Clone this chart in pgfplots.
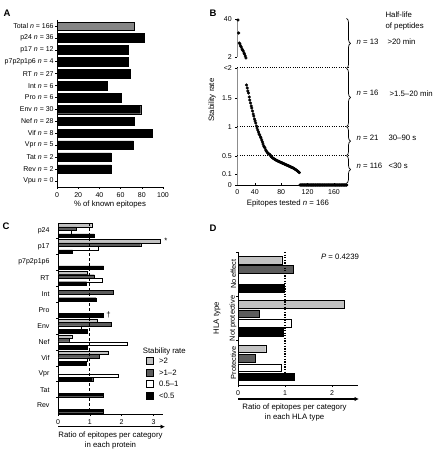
\documentclass[border=0pt]{standalone}
\usepackage{pgfplots}
\pgfplotsset{compat=1.18}
\usepackage{fontspec}
\setmainfont{Liberation Sans}
\usetikzlibrary{decorations.pathreplacing,arrows.meta}
\definecolor{lgray}{HTML}{C2C2C2}
\definecolor{dgray}{HTML}{5C5C5C}
\definecolor{tgray}{HTML}{858585}
\definecolor{axgray}{HTML}{8C8C8C}
\newcommand{\lab}{\fontsize{7.8}{9}\selectfont}
\newcommand{\tk}{\fontsize{7}{8}\selectfont}
\begin{document}
\begin{tikzpicture}[x=1pt,y=1pt,font=\lab]
\pgfplotsset{
  every axis/.append style={scale only axis, anchor=south west, clip=false,
    /pgf/number format/assume math mode=true,
    tick label style={font=\tk}, axis line style={line width=0.6pt},
    tick style={black, line width=0.5pt}, major tick length=2pt},
}
\path[use as bounding box] (0,0) rectangle (432,452);

% ---------------- Panel A ----------------
\begin{axis}[at={(57pt,265pt)}, width=106pt, height=167pt,
  xmin=0, xmax=100, ymin=-0.5, ymax=13.5, y dir=reverse,
  axis x line*=bottom, axis y line*=left, tick align=outside,
  xtick={0,20,40,60,80,100}, ytick={0,1,...,13},
  yticklabel style={inner sep=1.2pt},
  yticklabels={{Total \textit{n} = 166},{p24 \textit{n} = 36},{p17 \textit{n} = 12},{p7p2p1p6 \textit{n} = 4},{RT \textit{n} = 27},{Int \textit{n} = 6},{Pro \textit{n} = 6},{Env \textit{n} = 30},{Nef \textit{n} = 28},{Vif \textit{n} = 8},{Vpr \textit{n} = 5},{Tat \textit{n} = 2},{Rev \textit{n} = 2},{Vpu \textit{n} = 0}}]
\addplot[xbar, bar width=8.5pt, bar shift=0pt, fill=tgray, draw=black, line width=0.4pt] coordinates {(73,0)};
\addplot[xbar, bar width=8.5pt, bar shift=0pt, fill=black, draw=black, line width=0.4pt] coordinates {
(82,1) (67,2) (67,3) (69,4) (47,5) (61,6) (79,7) (73,8) (90,9) (72,10) (51,11) (51,12)};
\end{axis}
\node at (110,248) {\% of known epitopes};
\node[font=\fontsize{9.5}{10}\selectfont\bfseries] at (7,439) {A};

% ---------------- Panel B ----------------
\begin{axis}[at={(237.3pt,267pt)}, width=110.2pt, height=166pt,
  xmin=0, xmax=167, ymin=0, ymax=166,
  axis x line*=bottom, axis y line*=left,
  y axis line style={draw=none},
  ytick align=outside, xtick align=inside,
  xticklabel style={yshift=-1.5pt},
  xtick={0,26.5,66.5,106.5,146.5}, xticklabels={0,40,80,120,160},
  ytick={0,11,29,58,87,117,128,166}, yticklabels={0,0.1,0.5,1,1.5,<2,2,40}]
\draw[axgray, line width=1.5pt] (axis cs:0,0) -- (axis cs:0,117);
\draw[axgray, line width=1.5pt] (axis cs:0,128) -- (axis cs:0,166);
\addplot[dash pattern=on 1pt off 1.3pt, line width=1pt] coordinates {(0,117) (169,117)};
\addplot[dash pattern=on 1pt off 1.3pt, line width=1pt] coordinates {(0,58) (169,58)};
\addplot[dash pattern=on 1pt off 1.3pt, line width=1pt] coordinates {(0,29) (169,29)};
\addplot[only marks, mark=*, mark size=1.35pt, black] coordinates {
(1,165) (2,152) (3,142) (4,141) (5,139) (6,138) (7,136) (8,135) (9,134) (10,132) (11,131) (12,129) (13,127)
(14,100) (15,97) (16,94) (17,92) (18,88) (19,85) (20,82) (21,79) (22,77) (23,74) (24,71) (25,69) (26,66) (27,64) (28,62) (29,59)
(30,57) (31,55) (32,53) (33,51) (34,50) (35,48) (36,47) (37,45) (38,43) (39,41) (40,39) (41,38) (42,37) (43,35) (44,34) (45,33) (46,32) (47,31.5) (48,31) (49,30.5) (50,30)
(51,28.5) (52,28) (53,27.4) (54,26.9) (55,26.4) (56,26) (57,25.6) (58,25.2) (59,24.8) (60,24.4)
(61,24.1) (62,23.8) (63,23.5) (64,23.2) (65,22.9) (66,22.6) (67,22.3) (68,22) (69,21.7) (70,21.4)
(71,21.1) (72,20.8) (73,20.5) (74,20.2) (75,19.9) (76,19.6) (77,19.3) (78,19) (79,18.7) (80,18.4)
(81,18.1) (82,17.8) (83,17.5) (84,17.2) (85,16.8) (86,16.4) (87,16) (88,15.6) (89,15.1) (90,14.6)
(91,14.1) (92,13.6) (93,13) (94,12.4)
(95,0) (96,0) (97,0) (98,0) (99,0) (100,0) (101,0) (102,0) (103,0) (104,0) (105,0) (106,0) (107,0) (108,0) (109,0) (110,0)
(111,0) (112,0) (113,0) (114,0) (115,0) (116,0) (117,0) (118,0) (119,0) (120,0) (121,0) (122,0) (123,0) (124,0) (125,0)
(126,0) (127,0) (128,0) (129,0) (130,0) (131,0) (132,0) (133,0) (134,0) (135,0) (136,0) (137,0) (138,0) (139,0) (140,0)
(141,0) (142,0) (143,0) (144,0) (145,0) (146,0) (147,0) (148,0) (149,0) (150,0) (151,0) (152,0) (153,0) (154,0) (155,0)
(156,0) (157,0) (158,0) (159,0) (160,0) (161,0) (162,0) (163,0) (164,0) (165,0) (166,0)};
\end{axis}
\node[font=\fontsize{9.5}{10}\selectfont\bfseries] at (213,439) {B};
\node[rotate=90] at (212,352) {Stability rate};
\node at (288,248.7) {Epitopes tested \textit{n} = 166};
\node[anchor=west] at (382,437) {Half-life};
\node[anchor=west] at (382,425.3) {of peptides};
\node[anchor=west] at (353,410.3) {\textit{n} = 13};
\node[anchor=west] at (384,410.3) {>20 min};
\node[anchor=west] at (353,358.7) {\textit{n} = 16};
\node[anchor=west] at (386,358.7) {>1.5–20 min};
\node[anchor=west] at (353,314.3) {\textit{n} = 21};
\node[anchor=west] at (385,314.3) {30–90 s};
\node[anchor=west] at (353,286) {\textit{n} = 116};
\node[anchor=west] at (385,286) {<30 s};
\begin{scope}[decoration={brace,amplitude=4pt}, line width=0.7pt]
\draw[decorate] (346.5,433.7) -- (346.5,383.7);
\draw[decorate] (346.5,383.7) -- (346.5,325.3);
\draw[decorate] (346.5,325.3) -- (346.5,296.3);
\draw[decorate] (346.5,296.3) -- (346.5,268.7);
\end{scope}

% ---------------- Panel C ----------------
\begin{axis}[at={(58pt,38pt)}, width=105pt, height=191pt,
  xmin=0, xmax=3.3, ymin=-0.465, ymax=11.527, y dir=reverse,
  axis x line*=bottom, axis y line*=left, tick align=outside,
  xtick={0,1,2,3}, ytick={0,1,...,11},
  ytick style={draw=none}, yticklabel style={xshift=-3pt},
  yticklabels={p24,p17,p7p2p1p6,RT,Int,Pro,Env,Nef,Vif,Vpr,Tat,Rev},
  extra y ticks={0.5,1.5,2.5,3.5,4.5,5.5,6.5,7.5,8.5,9.5,10.5},
  extra y tick labels={}, extra y tick style={ytick style={draw=black}}]
\addplot[xbar, bar width=3.5pt, bar shift=0pt, fill=lgray, draw=black, line width=0.3pt] coordinates {
(1.06,-0.333) (3.20,0.667) (0.93,2.667) (1.24,5.667) (0.43,6.667) (1.58,7.667)};
\addplot[xbar, bar width=3.5pt, bar shift=0pt, fill=dgray, draw=black, line width=0.3pt] coordinates {
(0.57,-0.111) (2.60,0.889) (1.14,2.889) (1.74,3.889) (1.68,5.889) (0.36,6.889) (1.30,7.889)};
\addplot[xbar, bar width=3.5pt, bar shift=0pt, fill=white, draw=black, line width=0.3pt] coordinates {
(0.40,0.111) (1.27,1.111) (1.39,3.111) (0.72,6.111) (2.18,7.111) (0.92,8.111) (1.90,9.111)};
\addplot[xbar, bar width=3.5pt, bar shift=0pt, fill=black, draw=black, line width=0.3pt] coordinates {
(1.14,0.333) (0.46,1.333) (1.43,2.333) (0.90,3.333) (1.20,4.333) (1.43,5.333) (0.92,6.333) (0.92,7.333) (0.88,8.333) (1.09,9.333) (1.43,10.333) (1.43,11.333)};
\addplot[dash pattern=on 3pt off 2pt, line width=0.8pt] coordinates {(1,-0.465) (1,11.527)};
\end{axis}
\node[font=\fontsize{9.5}{10}\selectfont\bfseries] at (6,226) {C};
\node at (166,211) {*};
\node at (108.5,137) {†};
\node at (164.3,101) {Stability rate};
\draw[fill=lgray, line width=0.4pt] (146,87.5) rectangle (153,94.5);
\draw[fill=dgray, line width=0.4pt] (146,76) rectangle (153,83);
\draw[fill=white, line width=0.4pt] (146,64.5) rectangle (153,71.5);
\draw[fill=black, line width=0.4pt] (146,53) rectangle (153,60);
\node[anchor=west] at (155.5,91) {>2};
\node[anchor=west] at (155.5,79.5) {>1–2};
\node[anchor=west] at (155.5,68) {0.5–1};
\node[anchor=west] at (155.5,56.5) {<0.5};
\draw[-{Latex[length=4.5pt,width=4.5pt]}, line width=1.4pt] (58,25.3) -- (165,25.3);
\node at (110.5,16.3) {Ratio of epitopes per category};
\node at (110.5,6.7) {in each protein};

% ---------------- Panel D ----------------
\begin{axis}[at={(238pt,67pt)}, width=120pt, height=133pt,
  xmin=0, xmax=2.553, ymin=-0.86, ymax=13.37, y dir=reverse,
  axis x line*=bottom, axis y line*=left,
  xtick={0,1,2}, xtick align=outside,
  ytick={1.5,6.25,11}, yticklabels={No effect,Not protective,Protective},
  ytick style={draw=none},
  yticklabel style={rotate=90, anchor=south, font=\fontsize{7.4}{8}\selectfont, inner sep=1.5pt},
  extra y ticks={-0.86,3.875,8.625}, extra y tick labels={},
  extra y tick style={ytick style={draw=black}, tick align=outside}]
\addplot[xbar, bar width=7.6pt, bar shift=0pt, fill=lgray, draw=black, line width=0.4pt] coordinates {
(0.93,0) (2.26,4.75) (0.59,9.5)};
\addplot[xbar, bar width=7.6pt, bar shift=0pt, fill=dgray, draw=black, line width=0.4pt] coordinates {
(1.17,1) (0.45,5.75) (0.36,10.5)};
\addplot[xbar, bar width=7.6pt, bar shift=0pt, fill=white, draw=black, line width=0.4pt] coordinates {
(1.14,6.75) (0.91,11.5)};
\addplot[xbar, bar width=7.6pt, bar shift=0pt, fill=black, draw=black, line width=0.4pt] coordinates {
(0.99,3) (0.96,7.75) (1.19,12.5)};
\addplot[dash pattern=on 1.3pt off 1.3pt, line width=1.3pt] coordinates {(1,-0.86) (1,13.0)};
\end{axis}
\node[font=\fontsize{9.5}{10}\selectfont\bfseries] at (213,224) {D};
\node at (340,194.7) {\textit{P} = 0.4239};
\node[rotate=90] at (217,134) {HLA type};
\draw[-{Latex[length=4.5pt,width=4.5pt]}, line width=1.4pt] (238,53) -- (359,53);
\node at (294.5,44.3) {Ratio of epitopes per category};
\node at (294.5,34.7) {in each HLA type};
\end{tikzpicture}
\end{document}
